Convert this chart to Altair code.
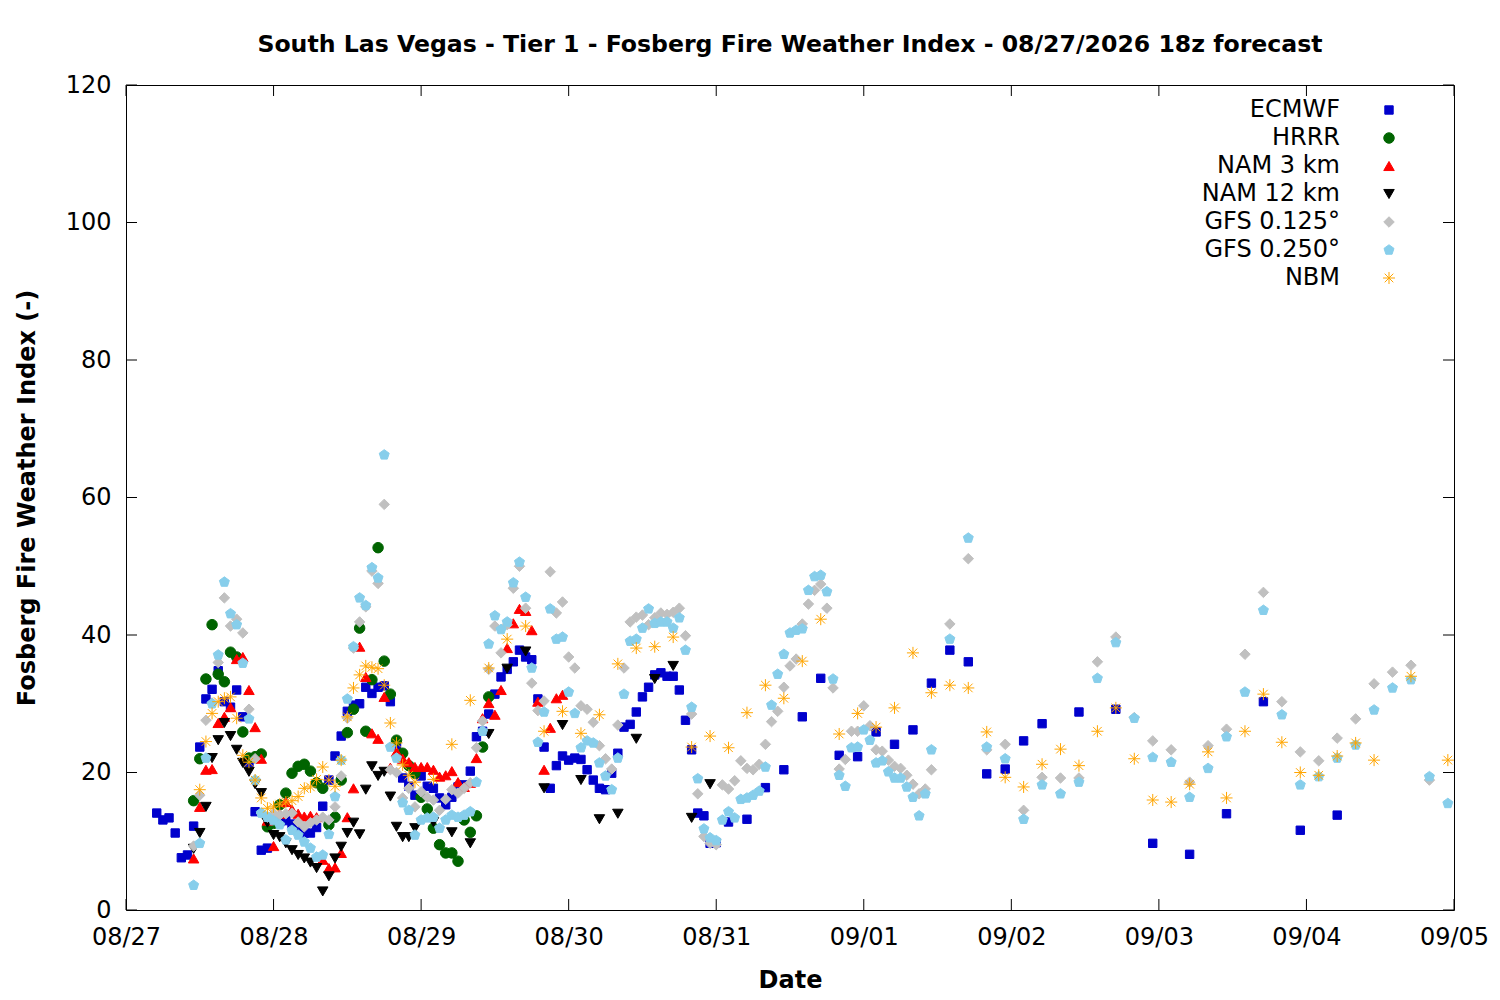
import altair as alt
import pandas as pd

# ---------------- data (hours since 08/27 00z, index values) ----------------
SERIES = ["ECMWF", "HRRR", "NAM 3 km", "NAM 12 km", "GFS 0.125°", "GFS 0.250°", "NBM"]
COLORS = ["#0000cc", "#006400", "#ff0000", "#000000", "#c0c0c0", "#87ceeb", "#ffa500"]

X_TICK_HOURS = [0, 24, 48, 72, 96, 120, 144, 168, 192, 216]
X_TICK_LABELS = ["08/27", "08/28", "08/29", "08/30", "08/31", "09/01", "09/02", "09/03", "09/04", "09/05"]
Y_TICKS = [0, 20, 40, 60, 80, 100, 120]

ecmwf_hourly_start = 5
ecmwf_hourly = [14.1, 13.1, 13.4, 11.2, 7.6, 8.0, 12.2, 23.7, 30.7, 32.1,
                34.8, 30.3, 29.5, 32.0, 28.1, 21.5, 14.3, 8.7, 9.0, 13.0,
                12.8, 13.0, 12.5, 11.5, 11.2, 11.2, 12.0, 15.1, 18.9, 22.4,
                25.3, 28.9, 29.8, 30.0, 32.4, 31.5, 32.4, 32.6, 30.3, 24.0,
                19.2, 18.0, 16.7, 19.5, 18.0, 17.7, 16.3, 15.3, 16.4, 17.9,
                18.2, 20.2, 25.2, 26.0, 28.5, 31.4, 33.9, 35.0, 36.1, 37.8,
                36.8, 36.4, 30.7, 23.7, 17.7, 21.0, 22.4, 21.8, 22.1, 21.9,
                20.4, 18.9, 17.7, 17.5, 19.9, 22.8, 26.6, 27.0, 28.8, 31.0,
                32.4, 34.2, 34.5, 34.0, 34.0, 32.0, 27.6, 23.3, 14.1, 13.7,
                9.7, 9.8]
ecmwf_sparse_hours = [98, 101, 104, 107, 110, 113, 116, 119, 122, 125, 128, 131, 134, 137,
                      140, 143, 146, 149, 155, 161, 167, 173, 179, 185, 191, 197]
ecmwf_sparse = [12.8, 13.2, 17.8, 20.4, 28.1, 33.7, 22.5, 22.3, 25.9, 24.1, 26.2, 33.0, 37.8, 36.1,
                19.8, 20.5, 24.6, 27.1, 28.8, 29.2, 9.7, 8.1, 14.0, 30.3, 11.6, 13.8]

hrrr_hourly_start = 11
hrrr_hourly = [15.9, 22.0, 33.6, 41.5, 34.3, 33.2, 37.5, 36.8, 25.9, 22.1,
               22.3, 22.7, 12.1, 12.6, 15.3, 17.0, 19.9, 20.9, 21.2, 20.2,
               18.5, 17.7, 12.4, 13.5, 18.9, 25.8, 29.2, 41.0, 26.0, 33.5,
               52.7, 36.2, 31.4, 24.7, 22.8, 21.0, 19.9, 16.4, 14.7, 11.9,
               9.5, 8.3, 8.3, 7.1, 13.1, 11.3, 13.7, 23.7, 31.0]

nam3_hourly_start = 11
nam3_hourly = [7.5, 15.0, 20.4, 20.5, 27.2, 28.1, 29.5, 36.5, 36.8, 32.0,
               26.6, 22.0, 13.0, 9.3, 14.0, 15.7, 14.6, 14.0, 13.6, 13.7,
               13.5, 7.3, 6.1, 6.2, 8.3, 13.5, 17.7, 38.3, 33.9, 25.7,
               24.9, 31.0, 20.7, 23.0, 22.0, 21.5, 20.8, 20.8, 20.8, 20.4,
               19.4, 19.6, 20.2, 18.6, 17.9, 18.5, 22.1, 27.9, 30.1, 28.4,
               32.0, 38.1, 41.7, 43.8, 43.5, 40.7, 30.3, 20.4, 26.5, 30.8,
               31.3]

nam12_hourly_start = 11
nam12_hourly = [8.9, 11.2, 15.0, 22.1, 24.7, 27.2, 25.3, 23.3, 21.4, 20.1,
                18.3, 17.0, 12.7, 10.9, 10.6, 9.7, 8.7, 8.0, 7.5, 6.9,
                6.1, 2.7, 4.9, 7.5, 9.2, 11.2, 12.7, 11.0, 17.5, 20.9,
                19.5, 20.1, 16.5, 12.1, 10.6, 10.6, 11.9]
nam12_sparse_hours = [50, 53, 56, 59, 62, 65, 68, 71, 74, 77, 80, 83, 86, 89, 92, 95]
nam12_sparse = [12.8, 11.3, 9.7, 25.6, 35.1, 37.6, 17.7, 26.9, 18.9, 13.2, 14.0, 24.9, 33.6, 35.5, 13.4, 18.3]

gfs125_hourly_start = 11
gfs125_hourly = [9.3, 16.7, 27.6, 30.1, 36.0, 45.4, 41.3, 42.3, 40.3, 29.2,
                 22.0, 14.1, 13.5, 14.0, 13.8, 14.0, 14.1, 12.8, 12.1, 12.7,
                 13.1, 13.5, 13.1, 15.0, 19.5, 27.9, 38.1, 41.9, 44.1, 49.3,
                 47.5, 59.0, 20.4, 20.0, 16.3, 17.7, 15.0, 17.2, 16.4, 16.0,
                 14.5, 16.1, 17.5, 17.0, 17.7, 18.5, 23.6, 27.5, 35.0, 41.3,
                 37.4, 41.5, 46.8, 50.0, 43.9, 33.0, 29.0, 30.4, 49.2, 43.2,
                 44.8, 36.8, 35.2, 29.7, 29.2, 27.3, 23.9, 22.0, 20.5, 26.9,
                 35.2, 41.9, 42.6, 42.9, 41.5, 42.5, 43.2, 43.0, 43.3, 43.9,
                 39.9, 28.5, 16.9, 10.7, 9.7, 9.5, 18.2, 17.6, 18.8, 21.7,
                 20.6, 20.4, 21.2, 24.1, 27.4, 28.9, 32.4, 35.5, 36.5, 41.6,
                 44.5, 46.5, 47.4, 43.9, 32.3, 20.5, 21.9, 26.0, 26.0, 29.7,
                 26.8, 23.3, 23.1, 21.8, 20.9, 20.6, 19.6, 18.3, 16.9, 17.6, 20.4]
gfs125_sparse_start = 134
gfs125_sparse = [41.6, 51.1, 23.3, 24.1, 14.5, 19.3, 19.2, 19.2, 36.1, 39.7, 28.0, 24.6, 23.3, 18.6,
                 23.9, 26.3, 37.2, 46.2, 30.3, 23.0, 21.7, 25.0, 27.8, 32.9, 34.6, 35.6, 18.9]

gfs250_hourly_start = 11
gfs250_hourly = [3.6, 9.7, 22.1, 30.0, 37.1, 47.7, 43.1, 41.5, 35.9, 27.8,
                 18.9, 14.1, 13.5, 13.0, 12.4, 10.2, 11.6, 10.9, 9.9, 9.0,
                 7.7, 8.0, 11.0, 16.5, 21.8, 30.7, 38.3, 45.4, 44.3, 49.8,
                 48.3, 66.2, 23.7, 22.1, 15.6, 14.5, 10.9, 13.1, 13.4, 13.5,
                 11.9, 13.1, 13.8, 13.5, 13.8, 14.3, 18.6, 26.0, 38.7, 42.8,
                 40.8, 41.9, 47.6, 50.6, 45.5, 35.2, 24.4, 28.8, 43.8, 39.4,
                 39.7, 31.7, 28.6, 23.6, 24.6, 24.3, 21.4, 19.5, 17.5, 22.1,
                 31.4, 39.1, 39.4, 41.0, 43.8, 41.7, 41.9, 41.9, 41.0, 42.5,
                 37.8, 29.5, 19.1, 11.8, 10.5, 10.1, 13.1, 14.3, 13.4, 16.1,
                 16.3, 16.7, 17.3, 20.8, 29.8, 34.3, 37.2, 40.3, 40.7, 40.9,
                 46.5, 48.5, 48.7, 46.3, 33.6, 19.6, 18.0, 23.6, 23.7, 26.2,
                 24.7, 21.4, 21.7, 20.1, 19.2, 19.2, 17.9, 16.4, 13.7, 16.9, 23.3]
gfs250_sparse_start = 134
gfs250_sparse = [39.4, 54.1, 23.7, 22.0, 13.2, 18.2, 16.9, 18.6, 33.7, 38.9, 27.9, 22.2, 21.5, 16.4,
                 20.6, 25.2, 31.7, 43.6, 28.4, 18.2, 19.4, 22.1, 24.0, 29.1, 32.3, 33.5, 19.4, 15.5]

nbm_hourly_start = 12
nbm_hourly = [17.5, 24.5, 28.6, 30.3, 30.8, 31.0, 27.9, 22.5, 21.5, 18.9,
              16.3, 14.8, 15.0, 15.4, 15.7, 15.9, 16.5, 17.7, 17.9, 19.0,
              20.8, 18.9, 18.0, 21.8, 28.1, 32.3, 34.2, 35.5, 35.3, 35.1,
              32.7, 27.2, 24.3, 21.1, 19.6, 18.6]
nbm_sparse_hours = [50, 53, 56, 59, 62, 65, 68, 71, 74, 77, 80, 83, 86, 89, 92, 95, 98, 101, 104,
                    107, 110, 113, 116, 119, 122, 125, 128, 131, 134, 137, 140, 143, 146, 149,
                    152, 155, 158, 161, 164, 167, 170, 173, 176, 179, 182, 185, 188, 191, 194,
                    197, 200, 203, 209, 215]
nbm_sparse = [19.0, 24.1, 30.5, 35.2, 39.4, 41.3, 26.0, 28.9, 25.7, 28.4, 35.8, 38.1, 38.3, 39.7,
              23.7, 25.3, 23.6, 28.7, 32.7, 30.8, 36.2, 42.3, 25.6, 28.6, 26.6, 29.4, 37.4, 31.6,
              32.7, 32.3, 25.9, 19.3, 17.9, 21.2, 23.4, 21.0, 26.0, 29.4, 22.0, 16.0, 15.7, 18.3,
              23.0, 16.3, 26.0, 31.4, 24.4, 20.0, 19.6, 22.4, 24.3, 21.8, 34.0, 21.8]

# ---------------- build table ----------------
def hourly(start, vals):
    return [start + i for i in range(len(vals))], list(vals)

def step3(start, vals):
    return [start + 3 * i for i in range(len(vals))], list(vals)

parts = {
    "ECMWF": [hourly(ecmwf_hourly_start, ecmwf_hourly), (ecmwf_sparse_hours, ecmwf_sparse)],
    "HRRR": [hourly(hrrr_hourly_start, hrrr_hourly)],
    "NAM 3 km": [hourly(nam3_hourly_start, nam3_hourly)],
    "NAM 12 km": [hourly(nam12_hourly_start, nam12_hourly), (nam12_sparse_hours, nam12_sparse)],
    "GFS 0.125°": [hourly(gfs125_hourly_start, gfs125_hourly), step3(gfs125_sparse_start, gfs125_sparse)],
    "GFS 0.250°": [hourly(gfs250_hourly_start, gfs250_hourly), step3(gfs250_sparse_start, gfs250_sparse)],
    "NBM": [hourly(nbm_hourly_start, nbm_hourly), (nbm_sparse_hours, nbm_sparse)],
}
rows = []
for k, name in enumerate(SERIES):
    for hrs, vals in parts[name]:
        for h, v in zip(hrs, vals):
            rows.append({"series": name, "hour": h, "value": v, "k": k})
df = pd.DataFrame(rows)

# ---------------- chart ----------------
W, H = 1328, 825
FONT = "DejaVu Sans"
FS = 24
SQUARE = "M-0.8,-0.8L0.8,-0.8L0.8,0.8L-0.8,0.8Z"
PENTAGON = "M0,-1L0.951,-0.309L0.588,0.809L-0.588,0.809L-0.951,-0.309Z"
STAR = "M-1.15,0L1.15,0M0,-1.15L0,1.15M-0.82,-0.82L0.82,0.82M-0.82,0.82L0.82,-0.82"
SHAPES = [SQUARE, "circle", "triangle-up", "triangle-down", "diamond", PENTAGON, STAR]

xs = alt.Scale(domain=[0, 216], nice=False, zero=False)
ys = alt.Scale(domain=[0, 120], nice=False)
label_expr = "[" + ",".join("'%s'" % s for s in X_TICK_LABELS) + "][round(datum.value/24)]"

x_axis = alt.Axis(values=X_TICK_HOURS, labelExpr=label_expr, title="Date",
                  grid=False, ticks=False, domain=False, labelPadding=15,
                  labelFlush=False, labelOverlap=False,
                  labelFontSize=FS, labelFont=FONT, labelColor="black",
                  titleFontSize=FS, titleFont=FONT, titleFontWeight="bold", titleColor="black",
                  titleX=W / 2, titleY=70, titleBaseline="middle", titleAlign="center")
y_axis = alt.Axis(values=Y_TICKS, title="Fosberg Fire Weather Index (-)",
                  grid=False, ticks=False, domain=False, labelPadding=15,
                  labelFlush=False, labelOverlap=False,
                  labelFontSize=FS, labelFont=FONT, labelColor="black",
                  titleFontSize=FS, titleFont=FONT, titleFontWeight="bold", titleColor="black",
                  titleX=-99, titleY=H / 2, titleAngle=270, titleBaseline="middle",
                  titleAlign="center")

points = alt.Chart(df).mark_point(filled=True, size=110, opacity=1, strokeWidth=1).encode(
    x=alt.X("hour:Q", scale=xs, axis=x_axis),
    y=alt.Y("value:Q", scale=ys, axis=y_axis),
    fill=alt.Fill("series:N", scale=alt.Scale(domain=SERIES, range=COLORS), legend=alt.Legend(title=None)),
    stroke=alt.Stroke("series:N", scale=alt.Scale(domain=SERIES, range=COLORS), legend=alt.Legend(title=None)),
    shape=alt.Shape("series:N", scale=alt.Scale(domain=SERIES, range=SHAPES), legend=alt.Legend(title=None)),
    order=alt.Order("k:Q"),
)

ytick_df = pd.DataFrame({"value": Y_TICKS})
xtick_df = pd.DataFrame({"hour": X_TICK_HOURS})
tl = alt.Chart(ytick_df).mark_rule(color="black", strokeWidth=1).encode(
    y=alt.Y("value:Q", scale=ys, axis=y_axis), x=alt.value(0), x2=alt.value(11))
tr = alt.Chart(ytick_df).mark_rule(color="black", strokeWidth=1).encode(
    y=alt.Y("value:Q", scale=ys, axis=y_axis), x=alt.value(W - 11), x2=alt.value(W))
tb = alt.Chart(xtick_df).mark_rule(color="black", strokeWidth=1).encode(
    x=alt.X("hour:Q", scale=xs, axis=x_axis), y=alt.value(H - 11), y2=alt.value(H))
tt = alt.Chart(xtick_df).mark_rule(color="black", strokeWidth=1).encode(
    x=alt.X("hour:Q", scale=xs, axis=x_axis), y=alt.value(0), y2=alt.value(11))

chart = alt.layer(points, tl, tr, tb, tt).properties(
    width=W, height=H,
    title=alt.TitleParams("South Las Vegas - Tier 1 - Fosberg Fire Weather Index - 08/27/2026 18z forecast",
                          anchor="middle", fontSize=23.6, font=FONT, fontWeight="bold", color="black",
                          offset=16),
    autosize=alt.AutoSizeParams(type="none"),
    padding={"left": 118, "top": 77, "right": 38, "bottom": 82},
).configure(font=FONT, background="white").configure_view(
    stroke="black", strokeWidth=1
).configure_legend(
    orient="none", legendX=1251, legendY=13, labelAlign="right", labelOffset=alt.ExprRef("-61"),
    symbolOffset=0,
    labelFontSize=FS, labelFont=FONT, labelColor="black", symbolSize=110, symbolStrokeWidth=1,
    symbolOpacity=1, rowPadding=4, padding=0, labelLimit=400
)

chart.save("out.html", embed_options={"renderer": "svg", "actions": False})
